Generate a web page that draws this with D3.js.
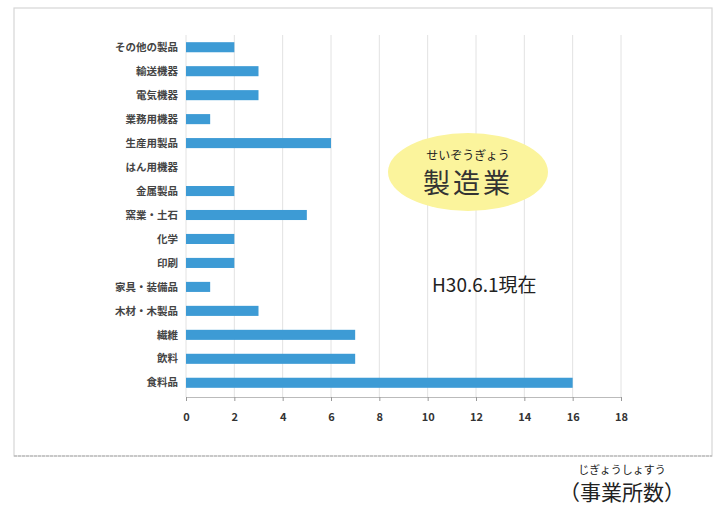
<html>
<head>
<meta charset="utf-8" />
<script src="https://cdn.jsdelivr.net/npm/d3@7"></script>
<style>
  body { margin: 0; background: #fff; }
  text { font-family: "Noto Sans CJK JP", sans-serif; }
</style>
</head>
<body>
<svg id="chart" width="720" height="506"></svg>
<script>
// categories top to bottom, as in the picture
const categories = ['その他の製品', '輸送機器', '電気機器', '業務用機器', '生産用製品', 'はん用機器',
  '金属製品', '窯業・土石', '化学', '印刷', '家具・装備品', '木材・木製品', '繊維', '飲料', '食料品']
const counts = [2, 3, 3, 1, 6, 0, 2, 5, 2, 2, 1, 3, 7, 7, 16]
const xTicks = [0, 2, 4, 6, 8, 10, 12, 14, 16, 18]

const svg = d3.select('#chart')

// faint scanned frame
svg.append('rect')
  .attr('x', 14).attr('y', 8).attr('width', 698).attr('height', 448)
  .attr('fill', 'none').attr('stroke', '#d6d6d6').attr('stroke-width', 1.2)

const x = d3.scaleLinear().domain([0, 18]).range([186, 621])
const y = d3.scaleBand().domain(categories).range([35, 395]).paddingInner(0.58).paddingOuter(0.3)

// gridlines
svg.append('g')
  .selectAll('line')
  .data(xTicks)
  .join('line')
  .attr('x1', d => x(d)).attr('x2', d => x(d))
  .attr('y1', 35).attr('y2', 397)
  .attr('stroke', '#e2e2e2')

// bars
svg.append('g')
  .selectAll('rect')
  .data(categories)
  .join('rect')
  .attr('x', x(0))
  .attr('y', d => y(d))
  .attr('width', (d, i) => x(counts[i]) - x(0))
  .attr('height', y.bandwidth())
  .attr('fill', '#3d9bd5')

// axis
const xAxis = svg.append('g')
  .attr('transform', 'translate(0,397)')
  .call(d3.axisBottom(x).tickValues(xTicks).tickSize(4).tickPadding(12))
xAxis.select('.domain').attr('stroke', '#bbb')
xAxis.selectAll('.tick line').attr('stroke', '#999')
xAxis.selectAll('.tick text')
  .attr('font-size', 11).attr('font-weight', 'bold').attr('fill', '#333')

// category labels
svg.append('g')
  .selectAll('text')
  .data(categories)
  .join('text')
  .attr('x', 178)
  .attr('y', d => y(d) + y.bandwidth() / 2)
  .attr('dy', '0.35em')
  .attr('text-anchor', 'end')
  .attr('font-size', 10.5)
  .attr('font-weight', 'bold')
  .attr('fill', '#444')
  .text(d => d)

// bottom rule
svg.append('line')
  .attr('x1', 14).attr('x2', 712).attr('y1', 456).attr('y2', 456)
  .attr('stroke', '#aaa').attr('stroke-dasharray', '3,1')

// yellow ellipse
svg.append('ellipse')
  .attr('cx', 468).attr('cy', 172).attr('rx', 80).attr('ry', 39)
  .attr('fill', '#fbf49c')
svg.append('text')
  .attr('x', 468).attr('y', 160).attr('text-anchor', 'middle')
  .attr('font-size', 12).attr('fill', '#222')
  .text('せいぞうぎょう')
svg.append('text')
  .attr('x', 468).attr('y', 193).attr('text-anchor', 'middle')
  .attr('font-size', 27).attr('fill', '#333').attr('letter-spacing', 3)
  .text('製造業')

svg.append('text')
  .attr('x', 432).attr('y', 292)
  .attr('font-size', 19).attr('fill', '#222')
  .text('H30.6.1現在')

svg.append('text')
  .attr('x', 622).attr('y', 474).attr('text-anchor', 'middle')
  .attr('font-size', 11).attr('fill', '#222')
  .text('じぎょうしょすう')
svg.append('text')
  .attr('x', 622).attr('y', 500).attr('text-anchor', 'middle')
  .attr('font-size', 21).attr('fill', '#222')
  .text('（事業所数）')
</script>
</body>
</html>
